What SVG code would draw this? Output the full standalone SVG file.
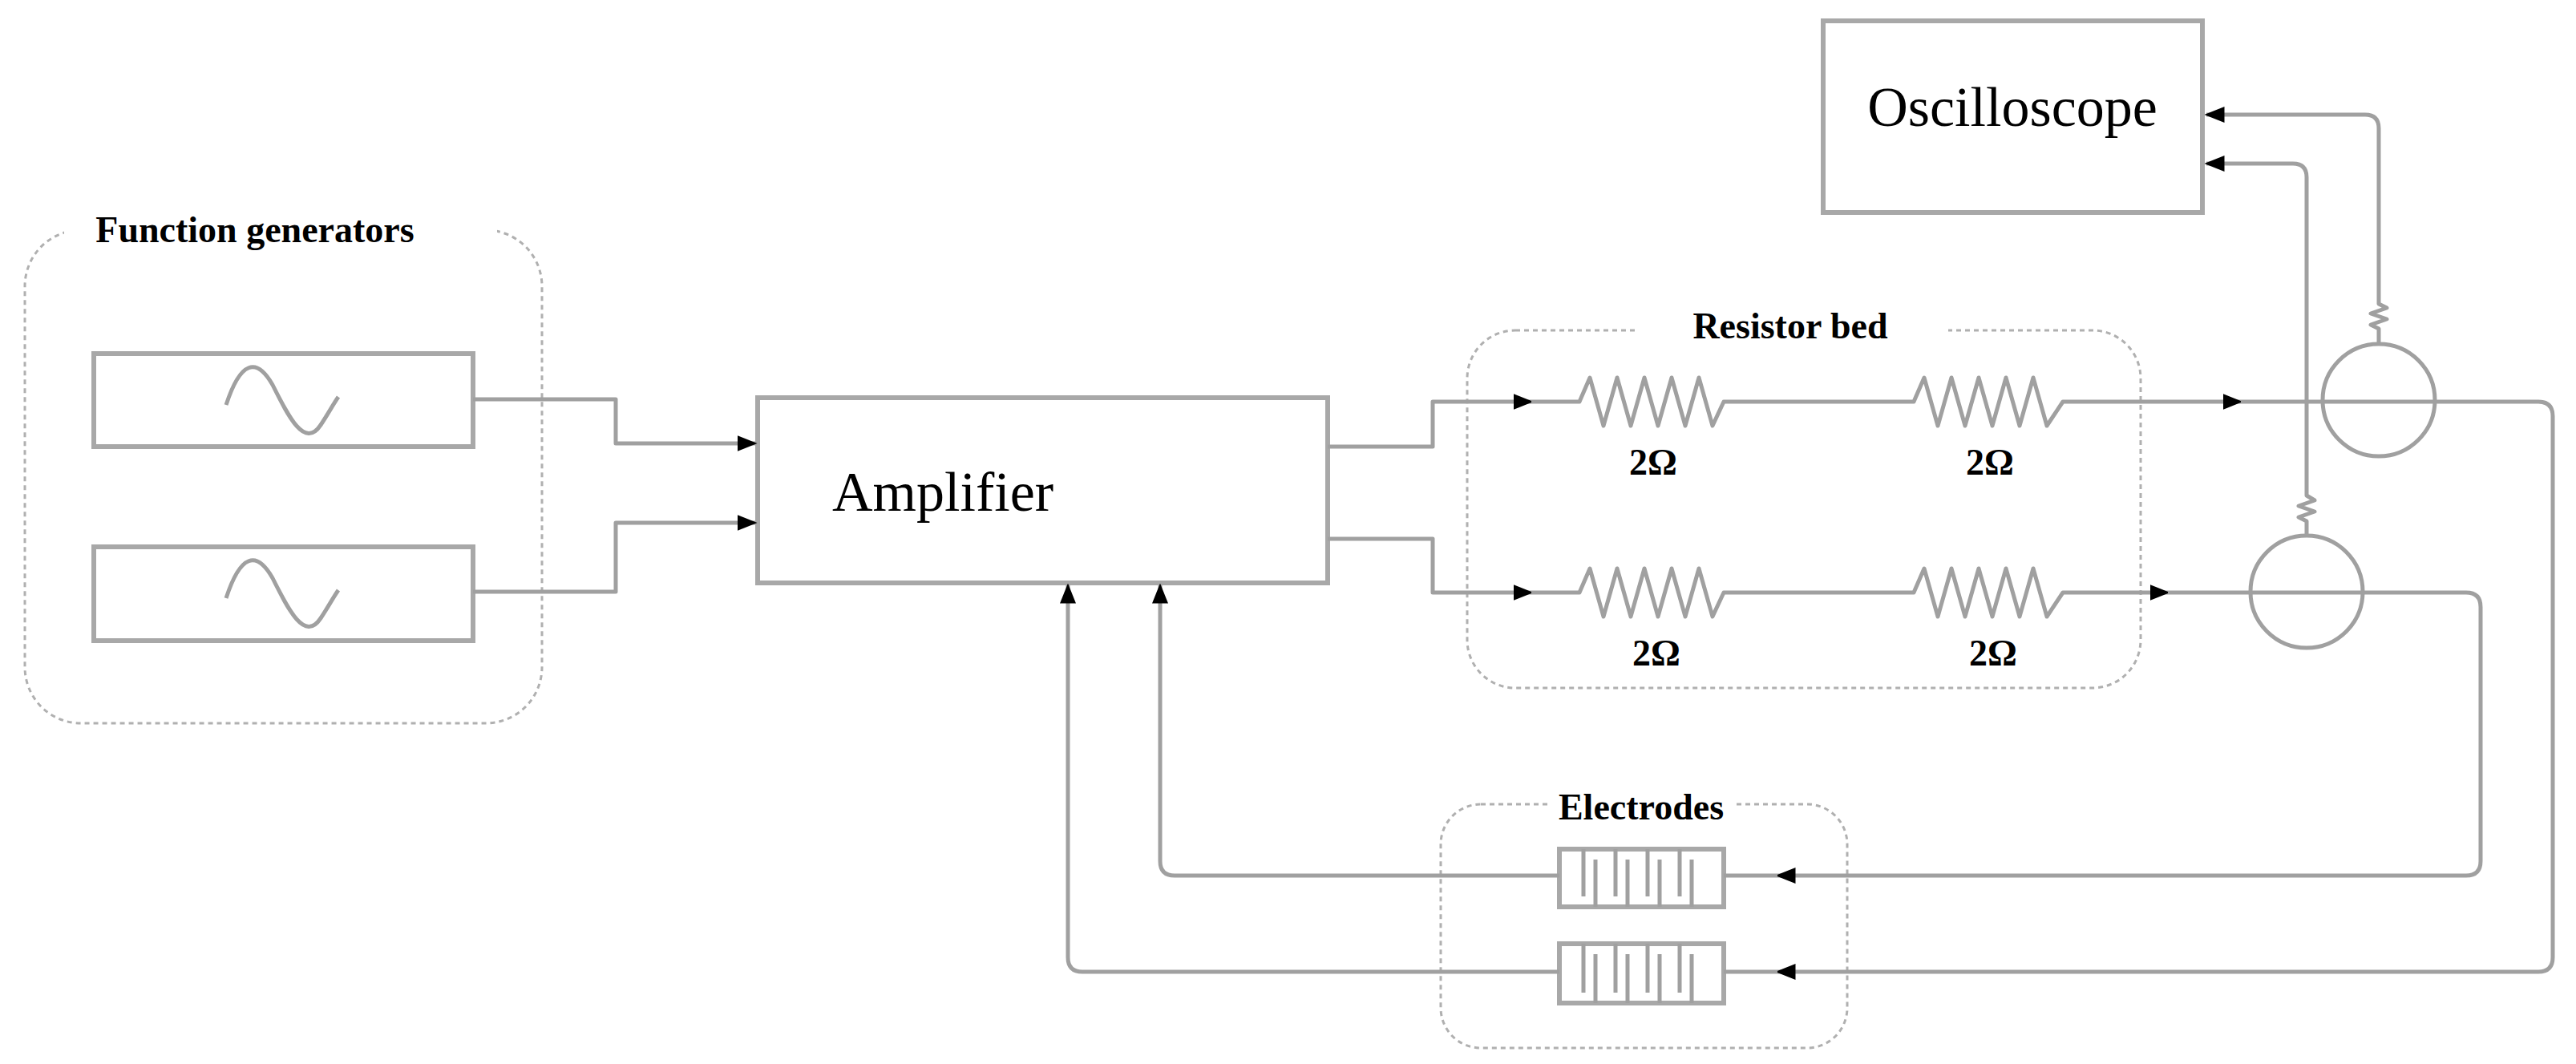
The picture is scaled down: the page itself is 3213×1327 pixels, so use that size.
<svg xmlns="http://www.w3.org/2000/svg" width="3213" height="1327" viewBox="0 0 3213 1327">
<style>
.w{fill:none;stroke:#a0a0a0;stroke-width:5;stroke-linejoin:round}
.b{fill:#fff;stroke:#a8a8a8;stroke-width:6}
.d{fill:none;stroke:#b0b0b0;stroke-width:3;stroke-dasharray:6 5}
.lab{font-family:"Liberation Serif",serif;font-weight:bold;font-size:46px;text-anchor:middle;fill:#000}
.big{font-family:"Liberation Serif",serif;font-size:70px;fill:#000}
</style>
<defs>
<marker id="a" viewBox="0 0 10 10" refX="9" refY="5" markerWidth="5" markerHeight="5" orient="auto" markerUnits="strokeWidth"><path d="M0,1 L10,5 L0,9 z" fill="#000"/></marker>
</defs>
<g id="fg-group"><rect class="d" x="31" y="287" width="645" height="615" rx="70"/><rect x="80" y="268" width="540" height="34" fill="#fff"/><text class="lab" x="318" y="302">Function generators</text></g>
<g id="gen1"><rect class="b" x="117" y="441" width="473" height="116"/><path d="M282,505 C300,450 320,445 340,480 C360,520 380,560 400,530 C410,515 415,505 422,495" class="w" stroke-width="4"/></g>
<g id="gen2"><rect class="b" x="117" y="682" width="473" height="117"/><path d="M282,746 C300,691 320,686 340,721 C360,761 380,801 400,771 C410,756 415,746 422,736" class="w" stroke-width="4"/></g>
<g id="amp"><rect class="b" x="945" y="496" width="711" height="231"/><text class="big" x="1038" y="637">Amplifier</text></g>
<g id="osc"><rect class="b" x="2274" y="26" width="473" height="239"/><text class="big" x="2510" y="157" text-anchor="middle">Oscilloscope</text></g>
<g id="resbed"><rect class="d" x="1830" y="412" width="840" height="446" rx="60"/><rect x="2040" y="392" width="390" height="34" fill="#fff"/><text class="lab" x="2233" y="422">Resistor bed</text>
<text class="lab" x="2062" y="592">2Ω</text><text class="lab" x="2482" y="592">2Ω</text><text class="lab" x="2066" y="830">2Ω</text><text class="lab" x="2486" y="830">2Ω</text></g>
<g id="elec-group"><rect class="d" x="1797" y="1003" width="507" height="304" rx="50"/><rect x="1930" y="985" width="235" height="34" fill="#fff"/><text class="lab" x="2047" y="1022">Electrodes</text></g>
<g id="e1"><rect class="b" x="1945" y="1059" width="205" height="72" stroke-width="5"/><path class="w" stroke-width="4" d="M1975,1059 V1118 M1990,1131 V1072 M2015,1059 V1118 M2030,1131 V1072 M2055,1059 V1118 M2070,1131 V1072 M2095,1059 V1118 M2110,1131 V1072"/></g>
<g id="e2"><rect class="b" x="1945" y="1177" width="205" height="74" stroke-width="5"/><path class="w" stroke-width="4" d="M1975,1177 V1238 M1990,1251 V1190 M2015,1177 V1238 M2030,1251 V1190 M2055,1177 V1238 M2070,1251 V1190 M2095,1177 V1238 M2110,1251 V1190"/></g>
<g id="probe1"><circle cx="2967" cy="499" r="70" class="w" stroke-width="4"/></g>
<g id="probe2"><circle cx="2877" cy="738" r="70" class="w" stroke-width="4"/></g>
<g id="connectors">
<path class="w" d="M590,498 H768 V553 H942" marker-end="url(#a)"/>
<path class="w" d="M590,738 H768 V652 H942" marker-end="url(#a)"/>
<path class="w" d="M1656,557 H1787 V501 H1910" marker-end="url(#a)"/>
<path class="w" d="M1656,672 H1787 V739 H1910" marker-end="url(#a)"/>
<path class="w" d="M1910,501 H1970 L1983,471 L2000,531 L2017,471 L2034,531 L2051,471 L2068,531 L2085,471 L2102,531 L2119,471 L2136,531 L2150,501 H2387 L2400,471 L2417,531 L2434,471 L2451,531 L2468,471 L2485,531 L2502,471 L2519,531 L2536,471 L2553,531 L2573,501 H2795" marker-end="url(#a)"/>
<path class="w" d="M1910,739 H1970 L1983,709 L2000,769 L2017,709 L2034,769 L2051,709 L2068,769 L2085,709 L2102,769 L2119,709 L2136,769 L2150,739 H2387 L2400,709 L2417,769 L2434,709 L2451,769 L2468,709 L2485,769 L2502,709 L2519,769 L2536,709 L2553,769 L2573,739 H2704" marker-end="url(#a)"/>
<path class="w" d="M2795,501 H3166 Q3184,501 3184,519 V1194 Q3184,1212 3166,1212 H2217" marker-end="url(#a)"/>
<path class="w" d="M2704,739 H3076 Q3094,739 3094,757 V1074 Q3094,1092 3076,1092 H2217" marker-end="url(#a)"/>
<path class="w" d="M2217,1092 H2150 M2217,1212 H2150"/>
<path class="w" d="M1945,1092 H1465 Q1447,1092 1447,1074 V730" marker-end="url(#a)"/>
<path class="w" d="M1945,1212 H1350 Q1332,1212 1332,1194 V730" marker-end="url(#a)"/>
<path class="w" stroke-width="4" d="M2967,429 V410 L2957,405 L2977,398 L2957,391 L2977,384 L2967,379 V160 Q2967,143 2950,143 H2752" marker-end="url(#a)"/>
<path class="w" stroke-width="4" d="M2877,668 V650 L2867,645 L2887,638 L2867,631 L2887,624 L2877,618 V221 Q2877,204 2860,204 H2752" marker-end="url(#a)"/>
</g>
</svg>
